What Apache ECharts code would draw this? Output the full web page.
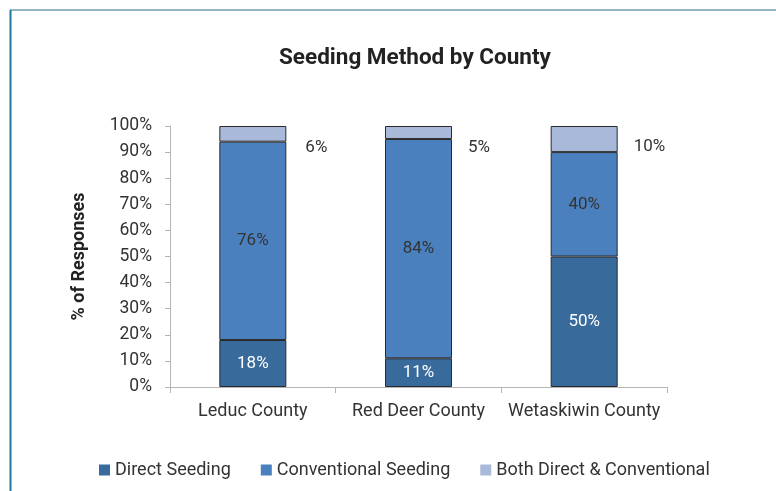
<!DOCTYPE html>
<html>
<head>
<meta charset="utf-8">
<script src="https://cdn.jsdelivr.net/npm/echarts@6/dist/echarts.min.js"></script>
<style>
html,body{margin:0;padding:0;background:#fff;}
#chart{width:776px;height:491px;}
</style>
</head>
<body>
<div id="chart"></div>
<script>
const categories = ['Leduc County', 'Red Deer County', 'Wetaskiwin County'];
const directSeeding = [18, 11, 50];
const conventionalSeeding = [76, 84, 40];
const bothDirectConventional = [6, 5, 10];
const yTickLabels = ['0%','10%','20%','30%','40%','50%','60%','70%','80%','90%','100%'];

const FONT = 'Roboto';
const chart = echarts.init(document.getElementById('chart'));

const outsideOffsets = [[3, 14], [0, 15], [0, 8]];

chart.setOption({
  animation: false,
  textStyle: { fontFamily: FONT },
  title: {
    text: 'Seeding Method by County',
    left: 274, top: 42,
    textStyle: { fontFamily: FONT, fontSize: 22.5, fontWeight: 'bold', color: '#222' }
  },
  graphic: [
    { type: 'line', shape: { x1: 10, y1: 10, x2: 776, y2: 10 }, style: { stroke: '#6f9fb0', lineWidth: 1.5 } },
    { type: 'line', shape: { x1: 10.5, y1: 10, x2: 10.5, y2: 491 }, style: { stroke: '#1f7a9c', lineWidth: 2 } }
  ],
  legend: {
    left: 94, top: 456,
    itemWidth: 11, itemHeight: 11, itemGap: 30,
    icon: 'rect',
    itemStyle: { borderWidth: 0 },
    textStyle: { fontFamily: FONT, fontSize: 18, color: '#333' },
    data: ['Direct Seeding', 'Conventional Seeding', 'Both Direct & Conventional']
  },
  grid: { left: 170, right: 109, top: 126, bottom: 104 },
  xAxis: {
    type: 'category',
    data: categories,
    axisLine: { lineStyle: { color: '#b5b5b5', width: 1 } },
    axisTick: { show: true, length: 6, lineStyle: { color: '#b5b5b5' } },
    axisLabel: { interval: 0, fontFamily: FONT, fontSize: 18, color: '#333', margin: 15 }
  },
  yAxis: {
    type: 'value',
    min: 0, max: 100, interval: 10,
    name: '% of Responses',
    nameLocation: 'middle',
    nameGap: 82,
    nameRotate: 90,
    nameTextStyle: { fontFamily: FONT, fontSize: 18, fontWeight: 'bold', color: '#222' },
    axisLine: { show: true, lineStyle: { color: '#b5b5b5', width: 1 } },
    axisTick: { show: true, length: 5, lineStyle: { color: '#b5b5b5' } },
    splitLine: { show: false },
    axisLabel: {
      fontFamily: FONT, fontSize: 17.5, color: '#333', margin: 18,
      formatter: function (v) { return yTickLabels[Math.round(v / 10)]; }
    }
  },
  series: [
    {
      name: 'Direct Seeding', type: 'bar', stack: 'total', barWidth: 67,
      data: directSeeding,
      itemStyle: { color: '#386a9c', borderColor: '#2b2b2b', borderWidth: 1 },
      label: { show: true, position: 'inside', formatter: '{c}%', color: '#fff', fontFamily: FONT, fontSize: 17 }
    },
    {
      name: 'Conventional Seeding', type: 'bar', stack: 'total', barWidth: 67,
      data: conventionalSeeding,
      itemStyle: { color: '#4b80bf', borderColor: '#2b2b2b', borderWidth: 1 },
      label: { show: true, position: 'inside', formatter: '{c}%', color: '#333', fontFamily: FONT, fontSize: 17 }
    },
    {
      name: 'Both Direct & Conventional', type: 'bar', stack: 'total', barWidth: 67,
      data: bothDirectConventional.map((v, i) => ({ value: v, label: { offset: outsideOffsets[i] } })),
      itemStyle: { color: '#a9b9d9', borderColor: '#2b2b2b', borderWidth: 1 },
      label: { show: true, position: 'right', distance: 16, formatter: '{c}%', color: '#333', fontFamily: FONT, fontSize: 17 }
    }
  ]
});
</script>
</body>
</html>
